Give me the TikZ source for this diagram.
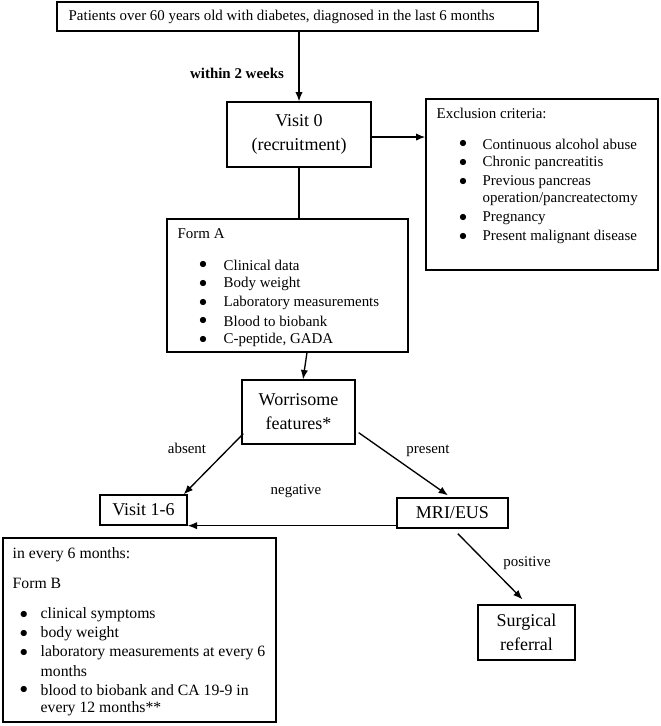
\documentclass[tikz,border=0pt]{standalone}
\usepackage{fontspec}
\setmainfont{Liberation Serif}
\usetikzlibrary{arrows.meta}

\tikzset{every picture/.style={line width=1pt}}
\tikzset{
  box/.style={draw, inner sep=0pt, align=center},
  bigtext/.style={font=\fontsize{13.5}{18}\selectfont},
  bodytext/.style={font=\fontsize{11.2}{14}\selectfont, anchor=west, inner sep=0pt},
  formbtext/.style={font=\fontsize{11.8}{14}\selectfont, anchor=west, inner sep=0pt},
  dot/.style={inner sep=0pt, font=\fontsize{11.5}{14}\selectfont},
  lbl/.style={font=\fontsize{11.2}{14}\selectfont, inner sep=0pt},
  arr/.style={-{Latex[length=7pt,width=5.5pt]}}
}

\begin{document}
\begin{tikzpicture}[x=0.75pt,y=0.75pt,yscale=-1,xscale=1]
\useasboundingbox (0,0) rectangle (661,726);

%Shape: Rectangle [id:patients]
\node [box, minimum width=360.75pt, minimum height=21.75pt] (patients) at (297.5,16.5) {};
% Text Node
\node [bodytext] (patientstxt) at (68,16.5) {Patients over 60 years old with diabetes, diagnosed in the last 6 months};

%Shape: Rectangle [id:visit0]
\node [box, bigtext, minimum width=108pt, minimum height=48.75pt] (visit0) at (299,134.5) {Visit 0\\(recruitment)};

%Shape: Rectangle [id:exclusion]
\node [box, minimum width=174pt, minimum height=128.25pt] (exclusion) at (542,184.5) {};
% Text Node
\node [bodytext] (exclhead) at (436,113) {Exclusion criteria:};
\node [dot] (exclb1) at (463,144) {$\bullet$};
\node [bodytext] (excl1) at (482,144) {Continuous alcohol abuse};
\node [dot] (exclb2) at (463,163) {$\bullet$};
\node [bodytext] (excl2) at (482,163) {Chronic pancreatitis};
\node [dot] (exclb3) at (463,182) {$\bullet$};
\node [bodytext] (excl3) at (482,182) {Previous pancreas};
\node [bodytext] (excl3b) at (482,199) {operation/pancreatectomy};
\node [dot] (exclb4) at (463,218) {$\bullet$};
\node [bodytext] (excl4) at (482,218) {Pregnancy};
\node [dot] (exclb5) at (463,237) {$\bullet$};
\node [bodytext] (excl5) at (482,237) {Present malignant disease};

%Shape: Rectangle [id:formA]
\node [box, minimum width=180.75pt, minimum height=99.75pt] (formA) at (287.5,285.5) {};
% Text Node
\node [bodytext] (formAhead) at (177,234) {Form A};
\node [dot] (formAb1) at (203,265) {$\bullet$};
\node [bodytext] (formA1) at (223,265) {Clinical data};
\node [dot] (formAb2) at (203,284) {$\bullet$};
\node [bodytext] (formA2) at (223,284) {Body weight};
\node [dot] (formAb3) at (203,303) {$\bullet$};
\node [bodytext] (formA3) at (223,303) {Laboratory measurements};
\node [dot] (formAb4) at (203,321) {$\bullet$};
\node [bodytext] (formA4) at (223,321) {Blood to biobank};
\node [dot] (formAb5) at (203,340) {$\bullet$};
\node [bodytext] (formA5) at (223,340) {C-peptide, GADA};

%Shape: Rectangle [id:worrisome]
\node [box, bigtext, minimum width=84.75pt, minimum height=48pt] (worrisome) at (298.5,412) {Worrisome\\features*};

%Shape: Rectangle [id:visit16]
\node [box, bigtext, minimum width=65.25pt, minimum height=22.5pt] (visit16) at (143.5,510) {Visit 1-6};

%Shape: Rectangle [id:mri]
\node [box, bigtext, minimum width=83.25pt, minimum height=22.5pt] (mri) at (452.5,513) {MRI/EUS};

%Shape: Rectangle [id:surgical]
\node [box, bigtext, minimum width=72.75pt, minimum height=41.25pt] (surgical) at (526.5,632.5) {Surgical\\referral};

%Shape: Rectangle [id:formB]
\node [box, minimum width=204.75pt, minimum height=138pt] (formB) at (139.5,630) {};
% Text Node
\node [formbtext] (formBhead) at (12,555) {in every 6 months:};
\node [formbtext] (formBname) at (12,583) {Form B};
\node [dot] (formBb1) at (24,615) {$\bullet$};
\node [formbtext] (formB1) at (40,615) {clinical symptoms};
\node [dot] (formBb2) at (24,634) {$\bullet$};
\node [formbtext] (formB2) at (40,634) {body weight};
\node [dot] (formBb3) at (24,653) {$\bullet$};
\node [formbtext] (formB3) at (40,653) {laboratory measurements at every 6};
\node [formbtext] (formB3b) at (40,671) {months};
\node [dot] (formBb4) at (24,690) {$\bullet$};
\node [formbtext] (formB4) at (40,690) {blood to biobank and CA 19-9 in};
\node [formbtext] (formB4b) at (40,709) {every 12 months**};

% Text Node
\node [lbl, font=\fontsize{11.2}{14}\selectfont\bfseries] (weeks) at (237,73) {within 2 weeks};
\node [lbl] (absent) at (187,448) {absent};
\node [lbl] (present) at (428,451) {present};
\node [lbl] (negative) at (296,491) {negative};
\node [lbl] (positive) at (527,563) {positive};

%Straight Lines [id:connectors]
\draw [arr] (visit0.north |- patients.south) -- (visit0.north);
\draw [arr] ([yshift=1.9pt]visit0.east) -- ([yshift=1.9pt]visit0.east -| exclusion.west);
\draw (visit0.south) -- (visit0.south |- formA.north);
\draw [arr] ([xshift=14.6pt]formA.south) -- ([xshift=3.4pt]worrisome.north);
\draw [arr] ([xshift=1.5pt,yshift=-8.25pt]worrisome.south west) -- ([xshift=-3pt]visit16.north east);
\draw [arr] ([xshift=2.25pt,yshift=-9pt]worrisome.south east) -- ([xshift=-3.4pt,yshift=-1.5pt]mri.north);
\draw [arr] ([yshift=-2.25pt]mri.south west) -- (visit16.south east);
\draw [arr] ([xshift=4pt,yshift=3.75pt]mri.south) -- ([xshift=-3pt,yshift=-3.75pt]surgical.north);

\end{tikzpicture}
\end{document}
